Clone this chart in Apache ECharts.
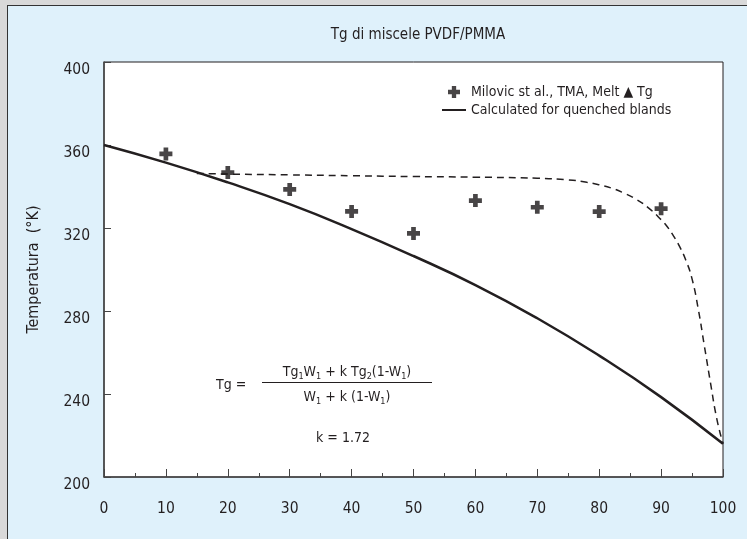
<!DOCTYPE html>
<html lang="it">
<head>
    <meta charset="UTF-8">
    <title>Tg di miscele PVDF/PMMA</title>
    <style>
        html, body { margin: 0; padding: 0; }
        #main { width: 747px; height: 539px; }
    </style>
    <script type="text/javascript" src="https://cdn.jsdelivr.net/npm/echarts@6/dist/echarts.min.js"></script>
</head>
<body>
<div id="main"></div>
<script>
    // dati
    var xTicks = [0, 10, 20, 30, 40, 50, 60, 70, 80, 90, 100];
    var milovicX = [10, 20, 30, 40, 50, 60, 70, 80, 90];
    var milovicTg = [355.7, 346.7, 338.6, 328, 317.4, 333.2, 330, 327.9, 329.3];
    var calcX = [0, 10, 20, 30, 40, 50, 60, 70, 80, 90, 100];
    var calcTg = [360, 351.5, 342, 331.5, 319.5, 306.5, 292.5, 276.5, 258.5, 238.5, 216];
    var dashX = [15, 20, 30, 40, 50, 60, 70, 75, 78, 80, 82, 84, 86, 88, 90, 91, 92, 93, 94, 95, 96, 97, 98, 99, 100];
    var dashTg = [346.3, 346, 345.6, 345.2, 344.8, 344.5, 344, 343.2, 342, 340.8, 339.2, 336.8, 333.8, 329.6, 324, 320.6, 316.2, 311, 304.5, 295.5, 281, 263, 245, 228, 216];

    var font = "'DejaVu Sans Condensed', 'Liberation Sans', sans-serif";
    var ink = '#231f20';
    var crossPath = 'path://M3.2,0H6.8V3.2H10V6.8H6.8V10H3.2V6.8H0V3.2H3.2Z';
    var lineIcon = 'path://M0,0H24V2H0Z';

    function pairs(xs, ys) {
        var out = [];
        for (var i = 0; i < xs.length; i++) out.push([xs[i], ys[i]]);
        return out;
    }

    var chart = echarts.init(document.getElementById('main'));
    var option = {
        backgroundColor: '#dff1fb',
        textStyle: { fontFamily: font, color: ink },
        title: {
            text: 'Tg di miscele PVDF/PMMA',
            left: 413, top: 23, textAlign: 'center',
            textStyle: { fontFamily: font, fontSize: 15, fontWeight: 'normal', color: ink }
        },
        legend: {
            orient: 'vertical',
            left: 442, top: 85, padding: 0,
            itemWidth: 24, itemHeight: 12, itemGap: 4,
            textStyle: { fontFamily: font, fontSize: 14, color: ink },
            data: [
                { name: 'Milovic st al., TMA, Melt ▲ Tg', icon: crossPath },
                { name: 'Calculated for quenched blands', icon: lineIcon }
            ]
        },
        grid: {
            left: 104, right: 24, top: 62, bottom: 62,
            show: true, backgroundColor: '#ffffff', borderColor: ink, borderWidth: 1
        },
        xAxis: {
            type: 'value', min: 0, max: 100, interval: 10,
            axisLine: { lineStyle: { color: '#444', width: 1.5 } },
            axisTick: { inside: true, length: 8, lineStyle: { color: '#444' } },
            minorTick: { show: true, splitNumber: 2, length: 4, lineStyle: { color: '#444' } },
            splitLine: { show: false },
            axisLabel: { margin: 24, fontFamily: font, fontSize: 15.5, color: ink }
        },
        yAxis: {
            type: 'value', min: 200, max: 400, interval: 40,
            name: 'Temperatura  (°K)', nameLocation: 'middle', nameGap: 62, nameRotate: 90,
            nameTextStyle: { fontFamily: font, fontSize: 16, color: ink },
            axisLine: { show: true, lineStyle: { color: '#444', width: 1.5 } },
            axisTick: { show: true, inside: true, length: 7, lineStyle: { color: '#444' } },
            splitLine: { show: false },
            axisLabel: { margin: 14, verticalAlign: 'top', fontFamily: font, fontSize: 15.5, color: ink }
        },
        series: [
            {
                name: 'Milovic st al., TMA, Melt ▲ Tg',
                type: 'scatter',
                symbol: crossPath, symbolSize: 13,
                itemStyle: { color: '#1a1718' },
                data: pairs(milovicX, milovicTg),
                z: 4
            },
            {
                name: 'Calculated for quenched blands',
                type: 'line', smooth: true, showSymbol: false,
                itemStyle: { color: ink },
                lineStyle: { color: ink, width: 2.5 },
                data: pairs(calcX, calcTg)
            },
            {
                name: 'dashed',
                type: 'line', smooth: 0.5, showSymbol: false,
                lineStyle: { color: ink, width: 1.5, type: [7, 5] },
                data: pairs(dashX, dashTg)
            }
        ],
        graphic: [
            // bordo grigio esterno
            { type: 'rect', shape: { x: 0, y: 0, width: 7, height: 539 }, style: { fill: '#d9d9d9' }, silent: true },
            { type: 'rect', shape: { x: 0, y: 0, width: 747, height: 5 }, style: { fill: '#d9d9d9' }, silent: true },
            { type: 'line', shape: { x1: 7.5, y1: 5, x2: 7.5, y2: 539 }, style: { stroke: '#333', lineWidth: 1 }, silent: true },
            { type: 'line', shape: { x1: 7, y1: 5.5, x2: 747, y2: 5.5 }, style: { stroke: '#333', lineWidth: 1 }, silent: true },
            // formula
            { type: 'text', x: 216, y: 385, style: { text: 'Tg =', font: '14px ' + font, fill: ink, verticalAlign: 'middle' }, silent: true },
            { type: 'line', shape: { x1: 262, y1: 382.5, x2: 432, y2: 382.5 }, style: { stroke: ink, lineWidth: 1 }, silent: true },
            {
                type: 'text', x: 347, y: 372, silent: true,
                style: {
                    text: '{n|Tg}{s|1}{n|W}{s|1}{n| + k Tg}{s|2}{n|(1-W}{s|1}{n|)}',
                    align: 'center', verticalAlign: 'middle',
                    rich: {
                        n: { fontFamily: font, fontSize: 14, fill: ink, lineHeight: 18, verticalAlign: 'middle' },
                        s: { fontFamily: font, fontSize: 9, fill: ink, lineHeight: 18, verticalAlign: 'bottom' }
                    }
                }
            },
            {
                type: 'text', x: 347, y: 397, silent: true,
                style: {
                    text: '{n|W}{s|1}{n| + k (1-W}{s|1}{n|)}',
                    align: 'center', verticalAlign: 'middle',
                    rich: {
                        n: { fontFamily: font, fontSize: 14, fill: ink, lineHeight: 18, verticalAlign: 'middle' },
                        s: { fontFamily: font, fontSize: 9, fill: ink, lineHeight: 18, verticalAlign: 'bottom' }
                    }
                }
            },
            { type: 'text', x: 343, y: 438, style: { text: 'k = 1.72', font: '14px ' + font, fill: ink, align: 'center', verticalAlign: 'middle' }, silent: true }
        ]
    };
    chart.setOption(option);
</script>
</body>
</html>
